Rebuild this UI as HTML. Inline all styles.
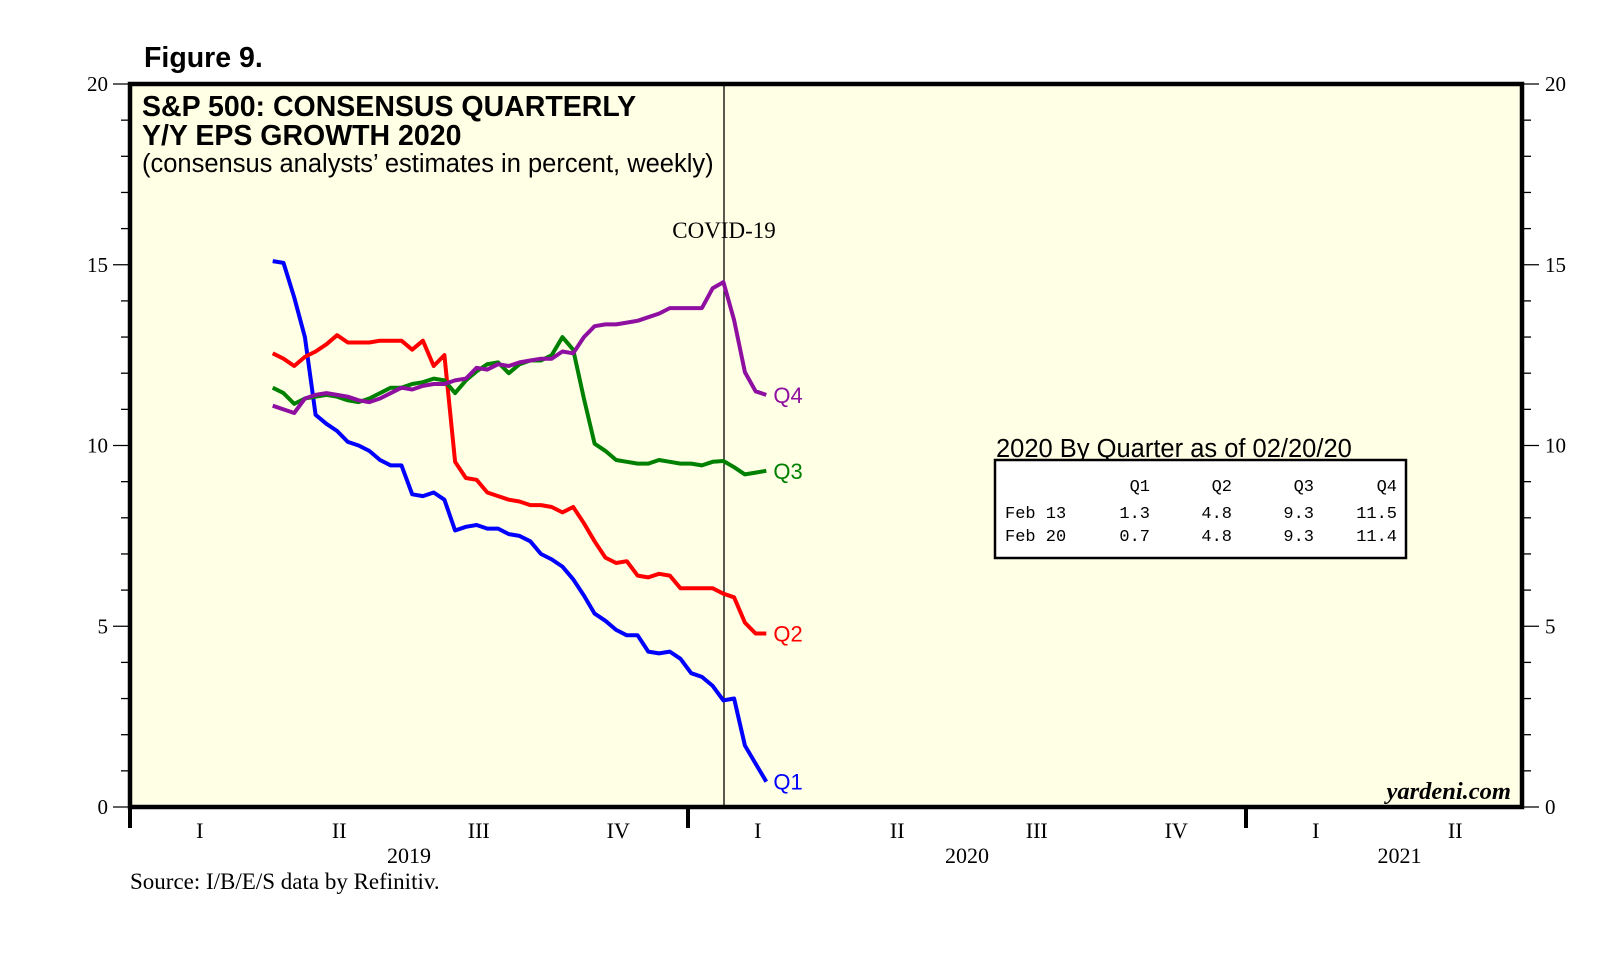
<!DOCTYPE html>
<html><head><meta charset="utf-8"><style>
body{margin:0;background:#fff;}
svg{display:block;}
</style></head><body>
<svg id="chart" width="1610" height="957" viewBox="0 0 1610 957" xmlns="http://www.w3.org/2000/svg">
<text x="144" y="67" font-family="Liberation Sans, sans-serif" font-weight="bold" font-size="28.5">Figure 9.</text>
<rect x="130" y="84" width="1392" height="723" fill="#ffffe6" stroke="#000" stroke-width="4.5"/>
<g id="yaxes"></g>
<g id="xaxis"></g>
<line x1="724" y1="86" x2="724" y2="805" stroke="#000" stroke-width="1.3"/>
<text x="724" y="238" text-anchor="middle" font-family="Liberation Serif, serif" font-size="23">COVID-19</text>
<text x="142" y="116" font-family="Liberation Sans, sans-serif" font-weight="bold" font-size="28.5">S&amp;P 500: CONSENSUS QUARTERLY</text>
<text x="142" y="145" font-family="Liberation Sans, sans-serif" font-weight="bold" font-size="28.5">Y/Y EPS GROWTH 2020</text>
<text x="142" y="172" font-family="Liberation Sans, sans-serif" font-size="25.5">(consensus analysts’ estimates in percent, weekly)</text>
<g id="series"></g>
<g font-family="Liberation Mono, monospace" font-size="17">
<text x="996" y="457" font-family="Liberation Sans, sans-serif" font-size="25.5">2020 By Quarter as of 02/20/20</text>
<rect x="995" y="460" width="411" height="98" fill="#fff" stroke="#000" stroke-width="2.5"/>
<text x="1150" y="491" text-anchor="end">Q1</text>
<text x="1232" y="491" text-anchor="end">Q2</text>
<text x="1314" y="491" text-anchor="end">Q3</text>
<text x="1397" y="491" text-anchor="end">Q4</text>
<text x="1005" y="518">Feb 13</text>
<text x="1150" y="518" text-anchor="end">1.3</text>
<text x="1232" y="518" text-anchor="end">4.8</text>
<text x="1314" y="518" text-anchor="end">9.3</text>
<text x="1397" y="518" text-anchor="end">11.5</text>
<text x="1005" y="541">Feb 20</text>
<text x="1150" y="541" text-anchor="end">0.7</text>
<text x="1232" y="541" text-anchor="end">4.8</text>
<text x="1314" y="541" text-anchor="end">9.3</text>
<text x="1397" y="541" text-anchor="end">11.4</text>
</g>
<text x="1511" y="799" text-anchor="end" font-family="Liberation Serif, serif" font-style="italic" font-weight="bold" font-size="24.5">yardeni.com</text>
<text x="130" y="889" font-family="Liberation Serif, serif" font-size="23">Source: I/B/E/S data by Refinitiv.</text>
</svg>
<script>
const q1Values=[15.1,15.05,14.1,13.0,10.85,10.6,10.4,10.1,10.0,9.85,9.6,9.45,9.45,8.65,8.6,8.7,8.5,7.65,7.75,7.8,7.7,7.7,7.55,7.5,7.35,7.0,6.85,6.65,6.3,5.85,5.35,5.15,4.9,4.75,4.75,4.3,4.25,4.3,4.1,3.7,3.6,3.35,2.95,3.0,1.7,1.2,0.7];
const q2Values=[12.55,12.4,12.2,12.45,12.6,12.8,13.05,12.85,12.85,12.85,12.9,12.9,12.9,12.65,12.9,12.2,12.5,9.55,9.1,9.05,8.7,8.6,8.5,8.45,8.35,8.35,8.3,8.15,8.3,7.85,7.35,6.9,6.75,6.8,6.4,6.35,6.45,6.4,6.05,6.05,6.05,6.05,5.9,5.8,5.1,4.8,4.8];
const q3Values=[11.6,11.45,11.15,11.3,11.35,11.4,11.35,11.25,11.2,11.3,11.45,11.6,11.6,11.7,11.75,11.85,11.8,11.45,11.8,12.05,12.25,12.3,12.0,12.25,12.35,12.35,12.5,13.0,12.65,11.3,10.05,9.85,9.6,9.55,9.5,9.5,9.6,9.55,9.5,9.5,9.45,9.55,9.57,9.4,9.2,9.25,9.3];
const q4Values=[11.1,11.0,10.9,11.3,11.4,11.45,11.4,11.35,11.25,11.2,11.3,11.45,11.6,11.55,11.65,11.7,11.7,11.8,11.85,12.15,12.1,12.25,12.2,12.3,12.35,12.4,12.4,12.6,12.55,13.0,13.3,13.35,13.35,13.4,13.45,13.55,13.65,13.8,13.8,13.8,13.8,14.35,14.52,13.47,12.03,11.5,11.4];
const seriesNames=["Q1","Q2","Q3","Q4"];
const yTicks=[0,5,10,15,20];
const quarterLabels=["I","II","III","IV","I","II","III","IV","I","II"];
const yearLabels=["2019","2020","2021"];
const startWeek=13.3;

const NS="http://www.w3.org/2000/svg";
const X0=130,YEARW=558,Y0=807,YPX=36.15;
function xWeek(i){return X0+(startWeek+i)*YEARW/52;}
function xQuarter(q){return X0+q*YEARW/4;}
function y(v){return Y0-v*YPX;}
function mk(tag,attrs,parent){const e=document.createElementNS(NS,tag);for(const k in attrs)e.setAttribute(k,attrs[k]);parent.appendChild(e);return e;}

const ya=document.getElementById('yaxes');
for(let v=0;v<=20;v++){
  const major=v%5===0;
  const l=mk('line',{x1:major?113:121,x2:130,y1:y(v),y2:y(v),stroke:'#000','stroke-width':1.3},ya);
  
  
  const r=mk('line',{x1:1522,x2:major?1539:1531,y1:y(v),y2:y(v),stroke:'#000','stroke-width':1.3},ya);
  
  
}
yTicks.forEach(v=>{
  const t=mk('text',{x:108,y:y(v)+7,'text-anchor':'end','font-family':'Liberation Serif, serif','font-size':21},ya);
  t.textContent=v;
  
  
  const t2=mk('text',{x:1545,y:y(v)+7,'font-family':'Liberation Serif, serif','font-size':21},ya);
  t2.textContent=v;
  
  
});
const xa=document.getElementById('xaxis');
for(let yr=0;yr<3;yr++){
  const tk=mk('line',{x1:xQuarter(yr*4),x2:xQuarter(yr*4),y1:805,y2:828,stroke:'#000','stroke-width':4},xa);
  
  
}
quarterLabels.forEach((q,i)=>{
  const t=mk('text',{x:xQuarter(i+0.5),y:838,'text-anchor':'middle','font-family':'Liberation Serif, serif','font-size':22},xa);
  t.textContent=q;
  
  
});
yearLabels.forEach((yl,i)=>{
  const cx=i<2?xQuarter(i*4+2):xQuarter(9.1);
  const t=mk('text',{x:cx,y:863,'text-anchor':'middle','font-family':'Liberation Serif, serif','font-size':22},xa);
  t.textContent=yl;
  
  
});
const sg=document.getElementById('series');
const colors=['#0000ff','#ff0000','#008000','#8e0fa0'];
[q1Values,q2Values,q3Values,q4Values].forEach((vals,s)=>{
  const pts=vals.map((v,i)=>xWeek(i).toFixed(1)+','+y(v).toFixed(1)).join(' ');
  const p=mk('polyline',{points:pts,fill:'none',stroke:colors[s],'stroke-width':4,'stroke-linejoin':'round'},sg);
  
  
  const last=vals[vals.length-1];
  const t=mk('text',{x:xWeek(vals.length-1)+7,y:y(last)+8,fill:colors[s],'font-family':'Liberation Sans, sans-serif','font-size':22},sg);
  t.textContent=seriesNames[s];
  
  
});
</script>
</body></html>
